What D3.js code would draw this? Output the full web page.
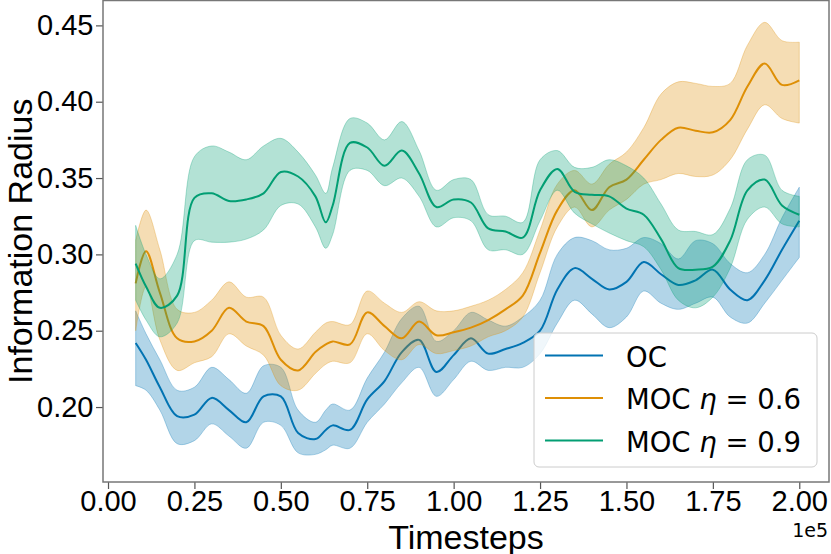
<!DOCTYPE html>
<html>
<head>
<meta charset="utf-8">
<script src="https://cdn.jsdelivr.net/npm/d3@7"></script>
<style>
  body { margin: 0; background: #fff; }
  .tick text { font-family: "Liberation Sans", Arial, sans-serif; font-size: 29px; fill: #000; }
  .tick line { stroke: #555; stroke-width: 1.2; }
  .domain { display: none; }
</style>
</head>
<body>
<div id="graph"></div>
<script>
// timesteps (raw), tick labels shown in units of 1e5
var steps = [8000, 11000, 15000, 20000, 25000, 30000, 35000, 40000, 45000, 50000,
  55000, 60000, 63000, 65000, 70000, 75000, 80000, 85000, 90000, 95000,
  100000, 105000, 110000, 115000, 120000, 125000, 130000, 135000, 140000, 145000,
  150000, 155000, 160000, 165000, 170000, 175000, 180000, 185000, 190000, 195000, 200000];

var ocMean = [0.242, 0.231, 0.213, 0.194, 0.195, 0.206, 0.198, 0.190, 0.207, 0.207,
  0.183, 0.179, 0.185, 0.188, 0.185, 0.205, 0.217, 0.236, 0.244, 0.223,
  0.234, 0.245, 0.235, 0.238, 0.242, 0.250, 0.277, 0.291, 0.284, 0.277,
  0.282, 0.295, 0.287, 0.280, 0.283, 0.290, 0.277, 0.270, 0.283, 0.303, 0.322];
var ocUpper = [0.263, 0.248, 0.231, 0.211, 0.213, 0.226, 0.218, 0.209, 0.227, 0.226,
  0.198, 0.190, 0.198, 0.202, 0.198, 0.219, 0.236, 0.258, 0.266, 0.243,
  0.250, 0.262, 0.257, 0.253, 0.259, 0.270, 0.300, 0.311, 0.309, 0.303,
  0.304, 0.311, 0.307, 0.297, 0.309, 0.307, 0.294, 0.288, 0.300, 0.324, 0.344];
var ocLower = [0.214, 0.211, 0.198, 0.176, 0.178, 0.189, 0.181, 0.173, 0.190, 0.188,
  0.170, 0.169, 0.172, 0.175, 0.173, 0.190, 0.202, 0.216, 0.226, 0.207,
  0.218, 0.230, 0.224, 0.226, 0.226, 0.235, 0.255, 0.270, 0.261, 0.252,
  0.259, 0.276, 0.268, 0.264, 0.268, 0.272, 0.259, 0.255, 0.268, 0.283, 0.298];

var moc6Mean = [0.281, 0.302, 0.275, 0.245, 0.243, 0.250, 0.265, 0.256, 0.253, 0.231,
  0.224, 0.236, 0.241, 0.243, 0.241, 0.262, 0.253, 0.245, 0.256, 0.247,
  0.249, 0.252, 0.257, 0.264, 0.273, 0.301, 0.329, 0.342, 0.329, 0.344,
  0.349, 0.362, 0.375, 0.383, 0.381, 0.380, 0.388, 0.410, 0.425, 0.411, 0.414];
var moc6Upper = [0.309, 0.329, 0.303, 0.264, 0.262, 0.270, 0.282, 0.272, 0.272, 0.247,
  0.238, 0.249, 0.255, 0.256, 0.254, 0.276, 0.268, 0.262, 0.269, 0.263,
  0.263, 0.266, 0.270, 0.277, 0.288, 0.316, 0.346, 0.355, 0.346, 0.359,
  0.367, 0.383, 0.405, 0.413, 0.412, 0.410, 0.412, 0.437, 0.452, 0.440, 0.439];
var moc6Lower = [0.250, 0.279, 0.244, 0.224, 0.229, 0.233, 0.248, 0.240, 0.234, 0.214,
  0.211, 0.222, 0.228, 0.230, 0.229, 0.248, 0.237, 0.231, 0.241, 0.235,
  0.237, 0.240, 0.246, 0.250, 0.259, 0.288, 0.318, 0.331, 0.318, 0.329,
  0.336, 0.346, 0.349, 0.353, 0.351, 0.352, 0.362, 0.382, 0.398, 0.389, 0.386];

var moc9Mean = [0.294, 0.279, 0.265, 0.273, 0.337, 0.340, 0.335, 0.336, 0.340, 0.354,
  0.351, 0.338, 0.321, 0.332, 0.373, 0.370, 0.358, 0.368, 0.353, 0.331,
  0.336, 0.334, 0.317, 0.315, 0.311, 0.342, 0.356, 0.341, 0.339, 0.338,
  0.330, 0.326, 0.310, 0.291, 0.290, 0.292, 0.309, 0.342, 0.349, 0.332, 0.326];
var moc9Upper = [0.319, 0.300, 0.284, 0.300, 0.364, 0.371, 0.367, 0.362, 0.371, 0.376,
  0.367, 0.352, 0.340, 0.357, 0.389, 0.386, 0.375, 0.387, 0.368, 0.342,
  0.349, 0.349, 0.326, 0.325, 0.321, 0.362, 0.368, 0.357, 0.357, 0.362,
  0.358, 0.350, 0.333, 0.316, 0.315, 0.313, 0.330, 0.362, 0.365, 0.342, 0.338];
var moc9Lower = [0.270, 0.257, 0.246, 0.255, 0.309, 0.308, 0.308, 0.310, 0.316, 0.332,
  0.333, 0.318, 0.304, 0.313, 0.355, 0.355, 0.345, 0.350, 0.338, 0.318,
  0.324, 0.322, 0.303, 0.303, 0.300, 0.322, 0.342, 0.327, 0.320, 0.314,
  0.309, 0.305, 0.290, 0.270, 0.265, 0.272, 0.291, 0.323, 0.331, 0.320, 0.318];

var xTicks = [0, 25000, 50000, 75000, 100000, 125000, 150000, 175000, 200000];
var yTicks = [0.20, 0.25, 0.30, 0.35, 0.40, 0.45];

var seriesNames = ["OC", "MOC", "MOC"];
var seriesEta = [null, "0.6", "0.9"];
var colors = ["#0173b2", "#de8f05", "#029e73"];

var W = 831, H = 554;
var m = {left: 103, top: 0.5, right: 2, bottom: 72}; // margins
var w = W - m.left - m.right;
var h = H - m.top - m.bottom;

var x = d3.scaleLinear().domain([-1450, 208600]).range([0, w]);
var y = d3.scaleLinear().domain([0.1509, 0.4663]).range([h, 0]);

var svg = d3.select("#graph").append("svg")
  .attr("width", W)
  .attr("height", H);

var graph = svg.append("g")
  .attr("transform", "translate(" + m.left + "," + m.top + ")");

graph.append("clipPath").attr("id", "clip")
  .append("rect").attr("width", w).attr("height", h);

function build(mean, upper, lower) {
  return steps.map(function(s, i) {
    return {x: s, y: mean[i], hi: upper[i], lo: lower[i]};
  });
}

var sets = [
  build(ocMean, ocUpper, ocLower),
  build(moc6Mean, moc6Upper, moc6Lower),
  build(moc9Mean, moc9Upper, moc9Lower)
];

var line = d3.line()
  .curve(d3.curveCatmullRom)
  .x(function(d) { return x(d.x); })
  .y(function(d) { return y(d.y); });

var band = d3.area()
  .curve(d3.curveCatmullRom)
  .x(function(d) { return x(d.x); })
  .y0(function(d) { return y(d.lo); })
  .y1(function(d) { return y(d.hi); });

var plot = graph.append("g").attr("clip-path", "url(#clip)");

sets.forEach(function(data, i) {
  plot.append("path")
    .attr("d", band(data))
    .attr("fill", colors[i])
    .attr("fill-opacity", 0.3)
    .attr("stroke", colors[i])
    .attr("stroke-opacity", 0.3)
    .attr("stroke-width", 1);
  plot.append("path")
    .attr("d", line(data))
    .attr("fill", "none")
    .attr("stroke", colors[i])
    .attr("stroke-width", 2);
});

// axes
var xAxis = d3.axisBottom(x)
  .tickValues(xTicks)
  .tickSize(7)
  .tickPadding(1.5)
  .tickFormat(function(d) { return (d / 1e5).toFixed(2); });
graph.append("g")
  .attr("class", "x axis")
  .attr("transform", "translate(0," + h + ")")
  .call(xAxis);

var yAxis = d3.axisLeft(y)
  .tickValues(yTicks)
  .tickSize(7)
  .tickPadding(2.5)
  .tickFormat(d3.format(".2f"));
graph.append("g")
  .attr("class", "y axis")
  .call(yAxis);

// frame
graph.append("rect")
  .attr("width", w)
  .attr("height", h)
  .attr("fill", "none")
  .attr("stroke", "#777")
  .attr("stroke-width", 1.5);

// labels
svg.append("text")
  .attr("x", m.left + w / 2)
  .attr("y", 548.5)
  .attr("text-anchor", "middle")
  .style("font-family", "'Liberation Sans', Arial, sans-serif")
  .style("font-size", "34px")
  .text("Timesteps");

svg.append("text")
  .attr("transform", "translate(32," + (m.top + h / 2) + ") rotate(-90)")
  .attr("text-anchor", "middle")
  .style("font-family", "'Liberation Sans', Arial, sans-serif")
  .style("font-size", "34px")
  .text("Information Radius");

svg.append("text")
  .attr("x", 828)
  .attr("y", 537)
  .attr("text-anchor", "end")
  .style("font-family", "'DejaVu Sans', sans-serif")
  .style("font-size", "19px")
  .text("1e5");

// legend
var legend = svg.append("g").attr("transform", "translate(534,333)");
legend.append("rect")
  .attr("width", 283)
  .attr("height", 134)
  .attr("rx", 5)
  .attr("fill", "#fff")
  .attr("fill-opacity", 0.8)
  .attr("stroke", "#ccc")
  .attr("stroke-width", 1);

seriesNames.forEach(function(name, i) {
  var ly = 22.5 + i * 42.5;
  legend.append("line")
    .attr("x1", 11).attr("x2", 69)
    .attr("y1", ly).attr("y2", ly)
    .attr("stroke", colors[i])
    .attr("stroke-width", 2);
  var t = legend.append("text")
    .attr("x", 92)
    .attr("y", ly + 11)
    .style("font-family", "'DejaVu Sans', sans-serif")
    .style("font-size", "27.5px")
    .text(name);
  if (seriesEta[i]) {
    t.append("tspan").text(" ");
    t.append("tspan").style("font-style", "italic").text("\u03b7");
    t.append("tspan").text(" = " + seriesEta[i]);
  }
});
</script>
</body>
</html>
